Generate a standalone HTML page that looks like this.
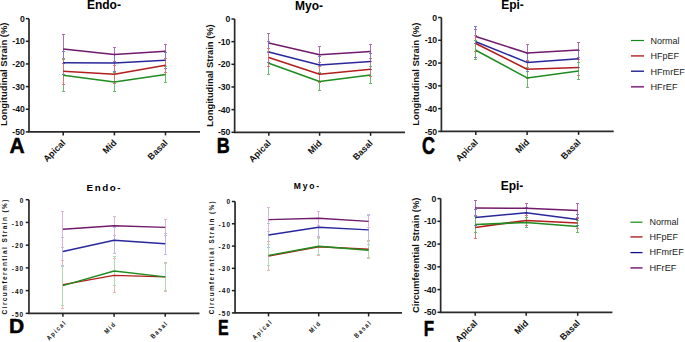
<!DOCTYPE html>
<html><head><meta charset="utf-8"><style>
html,body{margin:0;padding:0;background:#fff;}
body{width:685px;height:342px;overflow:hidden;}
svg{display:block;font-family:"Liberation Sans", sans-serif;}
</style></head><body>
<svg width="685" height="342" viewBox="0 0 685 342">
<rect width="685" height="342" fill="#fff"/>
<path d="M29.0 18.65V131.9H200.0" fill="none" stroke="#2a2a2a" stroke-width="1.7"/>
<path d="M25.8 18.65H29.0" stroke="#1e1e1e" stroke-width="1.5"/>
<text x="24.8" y="21.75" font-size="8.7" font-weight="bold" text-anchor="end" letter-spacing="0" fill="#111">0</text>
<path d="M25.8 41.3H29.0" stroke="#1e1e1e" stroke-width="1.5"/>
<text x="24.8" y="44.4" font-size="8.7" font-weight="bold" text-anchor="end" letter-spacing="0" fill="#111">-10</text>
<path d="M25.8 63.95H29.0" stroke="#1e1e1e" stroke-width="1.5"/>
<text x="24.8" y="67.05" font-size="8.7" font-weight="bold" text-anchor="end" letter-spacing="0" fill="#111">-20</text>
<path d="M25.8 86.6H29.0" stroke="#1e1e1e" stroke-width="1.5"/>
<text x="24.8" y="89.7" font-size="8.7" font-weight="bold" text-anchor="end" letter-spacing="0" fill="#111">-30</text>
<path d="M25.8 109.25H29.0" stroke="#1e1e1e" stroke-width="1.5"/>
<text x="24.8" y="112.35" font-size="8.7" font-weight="bold" text-anchor="end" letter-spacing="0" fill="#111">-40</text>
<path d="M25.8 131.9H29.0" stroke="#1e1e1e" stroke-width="1.5"/>
<text x="24.8" y="135.0" font-size="8.7" font-weight="bold" text-anchor="end" letter-spacing="0" fill="#111">-50</text>
<path d="M63.2 131.9v3.5" stroke="#1e1e1e" stroke-width="1.5"/>
<text transform="translate(66.0 143.4) rotate(-45)" font-size="9" font-weight="bold" text-anchor="end" letter-spacing="0" fill="#111">Apical</text>
<path d="M114.4 131.9v3.5" stroke="#1e1e1e" stroke-width="1.5"/>
<text transform="translate(117.2 143.4) rotate(-45)" font-size="9" font-weight="bold" text-anchor="end" letter-spacing="0" fill="#111">Mid</text>
<path d="M165.5 131.9v3.5" stroke="#1e1e1e" stroke-width="1.5"/>
<text transform="translate(168.3 143.4) rotate(-45)" font-size="9" font-weight="bold" text-anchor="end" letter-spacing="0" fill="#111">Basal</text>
<path d="M63.2 59.1V91.3" stroke="#6cb86c" stroke-width="1" fill="none" shape-rendering="crispEdges"/>
<path d="M114.4 72.7V91.3" stroke="#6cb86c" stroke-width="1" fill="none" shape-rendering="crispEdges"/>
<path d="M165.5 66.9V82.3" stroke="#6cb86c" stroke-width="1" fill="none" shape-rendering="crispEdges"/>
<path d="M63.2 34.7V63.1" stroke="#b070b0" stroke-width="1" fill="none" shape-rendering="crispEdges"/>
<path d="M114.4 47.5V61.5" stroke="#b070b0" stroke-width="1" fill="none" shape-rendering="crispEdges"/>
<path d="M165.5 44.4V58.0" stroke="#b070b0" stroke-width="1" fill="none" shape-rendering="crispEdges"/>
<path d="M63.2 51.3V74.3" stroke="#7a7ad0" stroke-width="1" fill="none" shape-rendering="crispEdges"/>
<path d="M114.4 54.5V71.5" stroke="#7a7ad0" stroke-width="1" fill="none" shape-rendering="crispEdges"/>
<path d="M165.5 52.2V68.4" stroke="#7a7ad0" stroke-width="1" fill="none" shape-rendering="crispEdges"/>
<path d="M63.2 58.0V84.6" stroke="#d67878" stroke-width="1" fill="none" shape-rendering="crispEdges"/>
<path d="M114.4 65.3V83.3" stroke="#d67878" stroke-width="1" fill="none" shape-rendering="crispEdges"/>
<path d="M165.5 58.0V72.6" stroke="#d67878" stroke-width="1" fill="none" shape-rendering="crispEdges"/>
<path d="M61.7 59.1h3M61.7 91.3h3" stroke="#6cb86c" stroke-width="1" fill="none" shape-rendering="crispEdges"/>
<path d="M112.9 72.7h3M112.9 91.3h3" stroke="#6cb86c" stroke-width="1" fill="none" shape-rendering="crispEdges"/>
<path d="M164.0 66.9h3M164.0 82.3h3" stroke="#6cb86c" stroke-width="1" fill="none" shape-rendering="crispEdges"/>
<path d="M61.7 34.7h3M61.7 63.1h3" stroke="#b070b0" stroke-width="1" fill="none" shape-rendering="crispEdges"/>
<path d="M112.9 47.5h3M112.9 61.5h3" stroke="#b070b0" stroke-width="1" fill="none" shape-rendering="crispEdges"/>
<path d="M164.0 44.4h3M164.0 58.0h3" stroke="#b070b0" stroke-width="1" fill="none" shape-rendering="crispEdges"/>
<path d="M61.7 51.3h3M61.7 74.3h3" stroke="#7a7ad0" stroke-width="1" fill="none" shape-rendering="crispEdges"/>
<path d="M112.9 54.5h3M112.9 71.5h3" stroke="#7a7ad0" stroke-width="1" fill="none" shape-rendering="crispEdges"/>
<path d="M164.0 52.2h3M164.0 68.4h3" stroke="#7a7ad0" stroke-width="1" fill="none" shape-rendering="crispEdges"/>
<path d="M61.7 58.0h3M61.7 84.6h3" stroke="#d67878" stroke-width="1" fill="none" shape-rendering="crispEdges"/>
<path d="M112.9 65.3h3M112.9 83.3h3" stroke="#d67878" stroke-width="1" fill="none" shape-rendering="crispEdges"/>
<path d="M164.0 58.0h3M164.0 72.6h3" stroke="#d67878" stroke-width="1" fill="none" shape-rendering="crispEdges"/>
<path d="M63.2 71.3 L114.4 74.3 L165.5 65.3" stroke="#b41e1e" stroke-width="1.55" fill="none" stroke-linejoin="round"/>
<path d="M63.2 75.2 L114.4 82.0 L165.5 74.6" stroke="#1e8c1e" stroke-width="1.55" fill="none" stroke-linejoin="round"/>
<path d="M63.2 62.8 L114.4 63.0 L165.5 60.3" stroke="#28289c" stroke-width="1.55" fill="none" stroke-linejoin="round"/>
<path d="M63.2 48.9 L114.4 54.5 L165.5 51.2" stroke="#701a6c" stroke-width="1.55" fill="none" stroke-linejoin="round"/>
<text x="103.9" y="9.2" font-size="12" font-weight="bold" text-anchor="middle" letter-spacing="0" fill="#000">Endo-</text>
<text transform="translate(6.9 74.25) rotate(-90)" font-size="9.9" font-weight="bold" text-anchor="middle" textLength="103.50" lengthAdjust="spacingAndGlyphs" fill="#111">Longitudinal Strain (%)</text>
<text transform="translate(9.54 153.27) scale(0.21 0.22)" font-size="100" font-weight="bold" fill="#000" stroke="#000" stroke-width="2.4" stroke-linejoin="round">A</text>
<path d="M234.65 19.0V132.3H405.0" fill="none" stroke="#2a2a2a" stroke-width="1.7"/>
<path d="M231.45 19.0H234.65" stroke="#1e1e1e" stroke-width="1.5"/>
<text x="230.45" y="22.1" font-size="8.7" font-weight="bold" text-anchor="end" letter-spacing="0" fill="#111">0</text>
<path d="M231.45 41.66H234.65" stroke="#1e1e1e" stroke-width="1.5"/>
<text x="230.45" y="44.76" font-size="8.7" font-weight="bold" text-anchor="end" letter-spacing="0" fill="#111">-10</text>
<path d="M231.45 64.32H234.65" stroke="#1e1e1e" stroke-width="1.5"/>
<text x="230.45" y="67.42" font-size="8.7" font-weight="bold" text-anchor="end" letter-spacing="0" fill="#111">-20</text>
<path d="M231.45 86.98H234.65" stroke="#1e1e1e" stroke-width="1.5"/>
<text x="230.45" y="90.08" font-size="8.7" font-weight="bold" text-anchor="end" letter-spacing="0" fill="#111">-30</text>
<path d="M231.45 109.64H234.65" stroke="#1e1e1e" stroke-width="1.5"/>
<text x="230.45" y="112.74" font-size="8.7" font-weight="bold" text-anchor="end" letter-spacing="0" fill="#111">-40</text>
<path d="M231.45 132.3H234.65" stroke="#1e1e1e" stroke-width="1.5"/>
<text x="230.45" y="135.4" font-size="8.7" font-weight="bold" text-anchor="end" letter-spacing="0" fill="#111">-50</text>
<path d="M268.8 132.3v3.5" stroke="#1e1e1e" stroke-width="1.5"/>
<text transform="translate(271.6 143.8) rotate(-45)" font-size="9" font-weight="bold" text-anchor="end" letter-spacing="0" fill="#111">Apical</text>
<path d="M319.6 132.3v3.5" stroke="#1e1e1e" stroke-width="1.5"/>
<text transform="translate(322.4 143.8) rotate(-45)" font-size="9" font-weight="bold" text-anchor="end" letter-spacing="0" fill="#111">Mid</text>
<path d="M370.6 132.3v3.5" stroke="#1e1e1e" stroke-width="1.5"/>
<text transform="translate(373.4 143.8) rotate(-45)" font-size="9" font-weight="bold" text-anchor="end" letter-spacing="0" fill="#111">Basal</text>
<path d="M268.8 51.6V74.8" stroke="#6cb86c" stroke-width="1" fill="none" shape-rendering="crispEdges"/>
<path d="M319.6 72.8V90.4" stroke="#6cb86c" stroke-width="1" fill="none" shape-rendering="crispEdges"/>
<path d="M370.6 66.9V83.3" stroke="#6cb86c" stroke-width="1" fill="none" shape-rendering="crispEdges"/>
<path d="M268.8 33.2V52.8" stroke="#b070b0" stroke-width="1" fill="none" shape-rendering="crispEdges"/>
<path d="M319.6 46.5V62.9" stroke="#b070b0" stroke-width="1" fill="none" shape-rendering="crispEdges"/>
<path d="M370.6 44.5V58.5" stroke="#b070b0" stroke-width="1" fill="none" shape-rendering="crispEdges"/>
<path d="M268.8 41.7V62.3" stroke="#7a7ad0" stroke-width="1" fill="none" shape-rendering="crispEdges"/>
<path d="M319.6 56.4V73.4" stroke="#7a7ad0" stroke-width="1" fill="none" shape-rendering="crispEdges"/>
<path d="M370.6 53.6V69.6" stroke="#7a7ad0" stroke-width="1" fill="none" shape-rendering="crispEdges"/>
<path d="M268.8 48.8V66.0" stroke="#d67878" stroke-width="1" fill="none" shape-rendering="crispEdges"/>
<path d="M319.6 66.2V82.2" stroke="#d67878" stroke-width="1" fill="none" shape-rendering="crispEdges"/>
<path d="M370.6 61.8V76.8" stroke="#d67878" stroke-width="1" fill="none" shape-rendering="crispEdges"/>
<path d="M267.3 51.6h3M267.3 74.8h3" stroke="#6cb86c" stroke-width="1" fill="none" shape-rendering="crispEdges"/>
<path d="M318.1 72.8h3M318.1 90.4h3" stroke="#6cb86c" stroke-width="1" fill="none" shape-rendering="crispEdges"/>
<path d="M369.1 66.9h3M369.1 83.3h3" stroke="#6cb86c" stroke-width="1" fill="none" shape-rendering="crispEdges"/>
<path d="M267.3 33.2h3M267.3 52.8h3" stroke="#b070b0" stroke-width="1" fill="none" shape-rendering="crispEdges"/>
<path d="M318.1 46.5h3M318.1 62.9h3" stroke="#b070b0" stroke-width="1" fill="none" shape-rendering="crispEdges"/>
<path d="M369.1 44.5h3M369.1 58.5h3" stroke="#b070b0" stroke-width="1" fill="none" shape-rendering="crispEdges"/>
<path d="M267.3 41.7h3M267.3 62.3h3" stroke="#7a7ad0" stroke-width="1" fill="none" shape-rendering="crispEdges"/>
<path d="M318.1 56.4h3M318.1 73.4h3" stroke="#7a7ad0" stroke-width="1" fill="none" shape-rendering="crispEdges"/>
<path d="M369.1 53.6h3M369.1 69.6h3" stroke="#7a7ad0" stroke-width="1" fill="none" shape-rendering="crispEdges"/>
<path d="M267.3 48.8h3M267.3 66.0h3" stroke="#d67878" stroke-width="1" fill="none" shape-rendering="crispEdges"/>
<path d="M318.1 66.2h3M318.1 82.2h3" stroke="#d67878" stroke-width="1" fill="none" shape-rendering="crispEdges"/>
<path d="M369.1 61.8h3M369.1 76.8h3" stroke="#d67878" stroke-width="1" fill="none" shape-rendering="crispEdges"/>
<path d="M268.8 57.4 L319.6 74.2 L370.6 69.3" stroke="#b41e1e" stroke-width="1.55" fill="none" stroke-linejoin="round"/>
<path d="M268.8 63.2 L319.6 81.6 L370.6 75.1" stroke="#1e8c1e" stroke-width="1.55" fill="none" stroke-linejoin="round"/>
<path d="M268.8 52.0 L319.6 64.9 L370.6 61.6" stroke="#28289c" stroke-width="1.55" fill="none" stroke-linejoin="round"/>
<path d="M268.8 43.0 L319.6 54.7 L370.6 51.5" stroke="#701a6c" stroke-width="1.55" fill="none" stroke-linejoin="round"/>
<text x="309.1" y="9.9" font-size="12" font-weight="bold" text-anchor="middle" letter-spacing="0" fill="#000">Myo-</text>
<text transform="translate(212.8 75.50) rotate(-90)" font-size="9.9" font-weight="bold" text-anchor="middle" textLength="102.40" lengthAdjust="spacingAndGlyphs" fill="#111">Longitudinal Strain (%)</text>
<text transform="translate(216.8 153.38) scale(0.18 0.22)" font-size="100" font-weight="bold" fill="#000" stroke="#000" stroke-width="2.4" stroke-linejoin="round">B</text>
<path d="M441.4 17.5V131.4H613.7" fill="none" stroke="#2a2a2a" stroke-width="1.7"/>
<path d="M438.2 17.5H441.4" stroke="#1e1e1e" stroke-width="1.5"/>
<text x="437.2" y="20.6" font-size="8.7" font-weight="bold" text-anchor="end" letter-spacing="0" fill="#111">0</text>
<path d="M438.2 40.28H441.4" stroke="#1e1e1e" stroke-width="1.5"/>
<text x="437.2" y="43.38" font-size="8.7" font-weight="bold" text-anchor="end" letter-spacing="0" fill="#111">-10</text>
<path d="M438.2 63.06H441.4" stroke="#1e1e1e" stroke-width="1.5"/>
<text x="437.2" y="66.16" font-size="8.7" font-weight="bold" text-anchor="end" letter-spacing="0" fill="#111">-20</text>
<path d="M438.2 85.84H441.4" stroke="#1e1e1e" stroke-width="1.5"/>
<text x="437.2" y="88.94" font-size="8.7" font-weight="bold" text-anchor="end" letter-spacing="0" fill="#111">-30</text>
<path d="M438.2 108.62H441.4" stroke="#1e1e1e" stroke-width="1.5"/>
<text x="437.2" y="111.72" font-size="8.7" font-weight="bold" text-anchor="end" letter-spacing="0" fill="#111">-40</text>
<path d="M438.2 131.4H441.4" stroke="#1e1e1e" stroke-width="1.5"/>
<text x="437.2" y="134.5" font-size="8.7" font-weight="bold" text-anchor="end" letter-spacing="0" fill="#111">-50</text>
<path d="M475.8 131.4v3.5" stroke="#1e1e1e" stroke-width="1.5"/>
<text transform="translate(478.6 142.9) rotate(-45)" font-size="9" font-weight="bold" text-anchor="end" letter-spacing="0" fill="#111">Apical</text>
<path d="M527.1 131.4v3.5" stroke="#1e1e1e" stroke-width="1.5"/>
<text transform="translate(529.9 142.9) rotate(-45)" font-size="9" font-weight="bold" text-anchor="end" letter-spacing="0" fill="#111">Mid</text>
<path d="M578.6 131.4v3.5" stroke="#1e1e1e" stroke-width="1.5"/>
<text transform="translate(581.4 142.9) rotate(-45)" font-size="9" font-weight="bold" text-anchor="end" letter-spacing="0" fill="#111">Basal</text>
<path d="M475.8 29.3V43.9" stroke="#b070b0" stroke-width="1" fill="none" shape-rendering="crispEdges"/>
<path d="M527.1 44.5V61.3" stroke="#b070b0" stroke-width="1" fill="none" shape-rendering="crispEdges"/>
<path d="M578.6 42.2V57.6" stroke="#b070b0" stroke-width="1" fill="none" shape-rendering="crispEdges"/>
<path d="M475.8 26.2V57.2" stroke="#7a7ad0" stroke-width="1" fill="none" shape-rendering="crispEdges"/>
<path d="M527.1 53.4V71.4" stroke="#7a7ad0" stroke-width="1" fill="none" shape-rendering="crispEdges"/>
<path d="M578.6 50.3V67.3" stroke="#7a7ad0" stroke-width="1" fill="none" shape-rendering="crispEdges"/>
<path d="M475.8 35.5V51.5" stroke="#d67878" stroke-width="1" fill="none" shape-rendering="crispEdges"/>
<path d="M527.1 60.3V78.3" stroke="#d67878" stroke-width="1" fill="none" shape-rendering="crispEdges"/>
<path d="M578.6 59.4V75.4" stroke="#d67878" stroke-width="1" fill="none" shape-rendering="crispEdges"/>
<path d="M475.8 40.9V59.5" stroke="#6cb86c" stroke-width="1" fill="none" shape-rendering="crispEdges"/>
<path d="M527.1 67.9V87.9" stroke="#6cb86c" stroke-width="1" fill="none" shape-rendering="crispEdges"/>
<path d="M578.6 62.7V79.1" stroke="#6cb86c" stroke-width="1" fill="none" shape-rendering="crispEdges"/>
<path d="M474.3 29.3h3M474.3 43.9h3" stroke="#b070b0" stroke-width="1" fill="none" shape-rendering="crispEdges"/>
<path d="M525.6 44.5h3M525.6 61.3h3" stroke="#b070b0" stroke-width="1" fill="none" shape-rendering="crispEdges"/>
<path d="M577.1 42.2h3M577.1 57.6h3" stroke="#b070b0" stroke-width="1" fill="none" shape-rendering="crispEdges"/>
<path d="M474.3 26.2h3M474.3 57.2h3" stroke="#7a7ad0" stroke-width="1" fill="none" shape-rendering="crispEdges"/>
<path d="M525.6 53.4h3M525.6 71.4h3" stroke="#7a7ad0" stroke-width="1" fill="none" shape-rendering="crispEdges"/>
<path d="M577.1 50.3h3M577.1 67.3h3" stroke="#7a7ad0" stroke-width="1" fill="none" shape-rendering="crispEdges"/>
<path d="M474.3 35.5h3M474.3 51.5h3" stroke="#d67878" stroke-width="1" fill="none" shape-rendering="crispEdges"/>
<path d="M525.6 60.3h3M525.6 78.3h3" stroke="#d67878" stroke-width="1" fill="none" shape-rendering="crispEdges"/>
<path d="M577.1 59.4h3M577.1 75.4h3" stroke="#d67878" stroke-width="1" fill="none" shape-rendering="crispEdges"/>
<path d="M474.3 40.9h3M474.3 59.5h3" stroke="#6cb86c" stroke-width="1" fill="none" shape-rendering="crispEdges"/>
<path d="M525.6 67.9h3M525.6 87.9h3" stroke="#6cb86c" stroke-width="1" fill="none" shape-rendering="crispEdges"/>
<path d="M577.1 62.7h3M577.1 79.1h3" stroke="#6cb86c" stroke-width="1" fill="none" shape-rendering="crispEdges"/>
<path d="M475.8 43.5 L527.1 69.3 L578.6 67.4" stroke="#b41e1e" stroke-width="1.55" fill="none" stroke-linejoin="round"/>
<path d="M475.8 50.2 L527.1 77.9 L578.6 70.9" stroke="#1e8c1e" stroke-width="1.55" fill="none" stroke-linejoin="round"/>
<path d="M475.8 41.7 L527.1 62.4 L578.6 58.8" stroke="#28289c" stroke-width="1.55" fill="none" stroke-linejoin="round"/>
<path d="M475.8 36.6 L527.1 52.9 L578.6 49.9" stroke="#701a6c" stroke-width="1.55" fill="none" stroke-linejoin="round"/>
<text x="512.5" y="9.1" font-size="12" font-weight="bold" text-anchor="middle" letter-spacing="0" fill="#000">Epi-</text>
<text transform="translate(419.0 74.20) rotate(-90)" font-size="9.9" font-weight="bold" text-anchor="middle" textLength="103.20" lengthAdjust="spacingAndGlyphs" fill="#111">Longitudinal Strain (%)</text>
<text transform="translate(422.01 153.83) scale(0.18 0.23)" font-size="100" font-weight="bold" fill="#000" stroke="#000" stroke-width="2.4" stroke-linejoin="round">C</text>
<path d="M28.95 199.7V313.35H199.5" fill="none" stroke="#2a2a2a" stroke-width="1.7"/>
<path d="M25.75 199.7H28.95" stroke="#1e1e1e" stroke-width="1.5"/>
<text x="24.35" y="202.9" font-size="6.5" font-weight="bold" text-anchor="end" letter-spacing="1.1" fill="#111">0</text>
<path d="M25.75 222.43H28.95" stroke="#1e1e1e" stroke-width="1.5"/>
<text x="24.35" y="225.63" font-size="6.5" font-weight="bold" text-anchor="end" letter-spacing="1.1" fill="#111">-10</text>
<path d="M25.75 245.16H28.95" stroke="#1e1e1e" stroke-width="1.5"/>
<text x="24.35" y="248.36" font-size="6.5" font-weight="bold" text-anchor="end" letter-spacing="1.1" fill="#111">-20</text>
<path d="M25.75 267.89H28.95" stroke="#1e1e1e" stroke-width="1.5"/>
<text x="24.35" y="271.09" font-size="6.5" font-weight="bold" text-anchor="end" letter-spacing="1.1" fill="#111">-30</text>
<path d="M25.75 290.62H28.95" stroke="#1e1e1e" stroke-width="1.5"/>
<text x="24.35" y="293.82" font-size="6.5" font-weight="bold" text-anchor="end" letter-spacing="1.1" fill="#111">-40</text>
<path d="M25.75 313.35H28.95" stroke="#1e1e1e" stroke-width="1.5"/>
<text x="24.35" y="316.55" font-size="6.5" font-weight="bold" text-anchor="end" letter-spacing="1.1" fill="#111">-50</text>
<path d="M62.9 313.35v3.5" stroke="#1e1e1e" stroke-width="1.5"/>
<text transform="translate(67.11 322.84) rotate(-45) scale(0.82 1)" font-size="6.8" font-weight="bold" text-anchor="end" letter-spacing="1.75" fill="#111">Apical</text>
<path d="M114.1 313.35v3.5" stroke="#1e1e1e" stroke-width="1.5"/>
<text transform="translate(116.75 324.4) rotate(-45) scale(0.82 1)" font-size="6.8" font-weight="bold" text-anchor="end" letter-spacing="1.75" fill="#111">Mid</text>
<path d="M165.2 313.35v3.5" stroke="#1e1e1e" stroke-width="1.5"/>
<text transform="translate(168.7 323.55) rotate(-45) scale(0.82 1)" font-size="6.8" font-weight="bold" text-anchor="end" letter-spacing="1.75" fill="#111">Basal</text>
<path d="M62.9 237.5V265.5" stroke="#bcbcea" stroke-width="1" fill="none" shape-rendering="crispEdges"/>
<path d="M114.1 227.2V253.2" stroke="#bcbcea" stroke-width="1" fill="none" shape-rendering="crispEdges"/>
<path d="M165.2 233.1V254.3" stroke="#bcbcea" stroke-width="1" fill="none" shape-rendering="crispEdges"/>
<path d="M62.9 211.0V247.4" stroke="#dcb4dc" stroke-width="1" fill="none" shape-rendering="crispEdges"/>
<path d="M114.1 216.4V235.0" stroke="#dcb4dc" stroke-width="1" fill="none" shape-rendering="crispEdges"/>
<path d="M165.2 219.2V235.6" stroke="#dcb4dc" stroke-width="1" fill="none" shape-rendering="crispEdges"/>
<path d="M62.9 260.8V308.4" stroke="#eab4b4" stroke-width="1" fill="none" shape-rendering="crispEdges"/>
<path d="M114.1 258.8V292.0" stroke="#eab4b4" stroke-width="1" fill="none" shape-rendering="crispEdges"/>
<path d="M165.2 262.5V291.3" stroke="#eab4b4" stroke-width="1" fill="none" shape-rendering="crispEdges"/>
<path d="M62.9 266.4V305.0" stroke="#b4dab4" stroke-width="1" fill="none" shape-rendering="crispEdges"/>
<path d="M114.1 256.7V285.3" stroke="#b4dab4" stroke-width="1" fill="none" shape-rendering="crispEdges"/>
<path d="M165.2 263.5V290.3" stroke="#b4dab4" stroke-width="1" fill="none" shape-rendering="crispEdges"/>
<path d="M61.4 237.5h3M61.4 265.5h3" stroke="#bcbcea" stroke-width="1" fill="none" shape-rendering="crispEdges"/>
<path d="M112.6 227.2h3M112.6 253.2h3" stroke="#bcbcea" stroke-width="1" fill="none" shape-rendering="crispEdges"/>
<path d="M163.7 233.1h3M163.7 254.3h3" stroke="#bcbcea" stroke-width="1" fill="none" shape-rendering="crispEdges"/>
<path d="M61.4 211.0h3M61.4 247.4h3" stroke="#dcb4dc" stroke-width="1" fill="none" shape-rendering="crispEdges"/>
<path d="M112.6 216.4h3M112.6 235.0h3" stroke="#dcb4dc" stroke-width="1" fill="none" shape-rendering="crispEdges"/>
<path d="M163.7 219.2h3M163.7 235.6h3" stroke="#dcb4dc" stroke-width="1" fill="none" shape-rendering="crispEdges"/>
<path d="M61.4 260.8h3M61.4 308.4h3" stroke="#eab4b4" stroke-width="1" fill="none" shape-rendering="crispEdges"/>
<path d="M112.6 258.8h3M112.6 292.0h3" stroke="#eab4b4" stroke-width="1" fill="none" shape-rendering="crispEdges"/>
<path d="M163.7 262.5h3M163.7 291.3h3" stroke="#eab4b4" stroke-width="1" fill="none" shape-rendering="crispEdges"/>
<path d="M61.4 266.4h3M61.4 305.0h3" stroke="#b4dab4" stroke-width="1" fill="none" shape-rendering="crispEdges"/>
<path d="M112.6 256.7h3M112.6 285.3h3" stroke="#b4dab4" stroke-width="1" fill="none" shape-rendering="crispEdges"/>
<path d="M163.7 263.5h3M163.7 290.3h3" stroke="#b4dab4" stroke-width="1" fill="none" shape-rendering="crispEdges"/>
<path d="M62.9 284.6 L114.1 275.4 L165.2 276.9" stroke="#b41e1e" stroke-width="1.4" fill="none" stroke-linejoin="round"/>
<path d="M62.9 285.7 L114.1 271.0 L165.2 276.9" stroke="#1e8c1e" stroke-width="1.4" fill="none" stroke-linejoin="round"/>
<path d="M62.9 251.5 L114.1 240.2 L165.2 243.7" stroke="#28289c" stroke-width="1.4" fill="none" stroke-linejoin="round"/>
<path d="M62.9 229.2 L114.1 225.7 L165.2 227.4" stroke="#701a6c" stroke-width="1.4" fill="none" stroke-linejoin="round"/>
<text x="104.3" y="190.8" font-size="9.8" font-weight="bold" text-anchor="middle" letter-spacing="1.55" fill="#000">Endo-</text>
<text transform="translate(7.1 257.00) rotate(-90)" font-size="6.5" font-weight="bold" text-anchor="middle" textLength="114.80" lengthAdjust="spacing" fill="#111">Circumferential Strain (%)</text>
<text transform="translate(9.03 333.49) scale(0.21 0.21)" font-size="100" font-weight="bold" fill="#000" stroke="#000" stroke-width="2.4" stroke-linejoin="round">D</text>
<path d="M235.05 201.5V312.9H402.0" fill="none" stroke="#2a2a2a" stroke-width="1.7"/>
<path d="M231.85 201.5H235.05" stroke="#1e1e1e" stroke-width="1.5"/>
<text x="231.15" y="204.25" font-size="6.5" font-weight="bold" text-anchor="end" letter-spacing="1.1" fill="#111">0</text>
<path d="M231.85 223.78H235.05" stroke="#1e1e1e" stroke-width="1.5"/>
<text x="231.15" y="226.53" font-size="6.5" font-weight="bold" text-anchor="end" letter-spacing="1.1" fill="#111">-10</text>
<path d="M231.85 246.06H235.05" stroke="#1e1e1e" stroke-width="1.5"/>
<text x="231.15" y="248.81" font-size="6.5" font-weight="bold" text-anchor="end" letter-spacing="1.1" fill="#111">-20</text>
<path d="M231.85 268.34H235.05" stroke="#1e1e1e" stroke-width="1.5"/>
<text x="231.15" y="271.09" font-size="6.5" font-weight="bold" text-anchor="end" letter-spacing="1.1" fill="#111">-30</text>
<path d="M231.85 290.62H235.05" stroke="#1e1e1e" stroke-width="1.5"/>
<text x="231.15" y="293.37" font-size="6.5" font-weight="bold" text-anchor="end" letter-spacing="1.1" fill="#111">-40</text>
<path d="M231.85 312.9H235.05" stroke="#1e1e1e" stroke-width="1.5"/>
<text x="231.15" y="315.65" font-size="6.5" font-weight="bold" text-anchor="end" letter-spacing="1.1" fill="#111">-50</text>
<path d="M268.5 312.9v3.5" stroke="#1e1e1e" stroke-width="1.5"/>
<text transform="translate(272.99 322.11) rotate(-45) scale(0.82 1)" font-size="6.8" font-weight="bold" text-anchor="end" letter-spacing="1.75" fill="#111">Apical</text>
<path d="M318.7 312.9v3.5" stroke="#1e1e1e" stroke-width="1.5"/>
<text transform="translate(321.63 323.67) rotate(-45) scale(0.82 1)" font-size="6.8" font-weight="bold" text-anchor="end" letter-spacing="1.75" fill="#111">Mid</text>
<path d="M368.6 312.9v3.5" stroke="#1e1e1e" stroke-width="1.5"/>
<text transform="translate(372.38 322.82) rotate(-45) scale(0.82 1)" font-size="6.8" font-weight="bold" text-anchor="end" letter-spacing="1.75" fill="#111">Basal</text>
<path d="M268.5 223.0V247.0" stroke="#bcbcea" stroke-width="1" fill="none" shape-rendering="crispEdges"/>
<path d="M318.7 218.3V236.3" stroke="#bcbcea" stroke-width="1" fill="none" shape-rendering="crispEdges"/>
<path d="M368.6 215.8V244.0" stroke="#bcbcea" stroke-width="1" fill="none" shape-rendering="crispEdges"/>
<path d="M268.5 207.9V231.3" stroke="#dcb4dc" stroke-width="1" fill="none" shape-rendering="crispEdges"/>
<path d="M318.7 211.4V225.0" stroke="#dcb4dc" stroke-width="1" fill="none" shape-rendering="crispEdges"/>
<path d="M368.6 214.9V227.9" stroke="#dcb4dc" stroke-width="1" fill="none" shape-rendering="crispEdges"/>
<path d="M268.5 241.6V270.6" stroke="#eab4b4" stroke-width="1" fill="none" shape-rendering="crispEdges"/>
<path d="M318.7 237.8V255.6" stroke="#eab4b4" stroke-width="1" fill="none" shape-rendering="crispEdges"/>
<path d="M368.6 240.8V257.8" stroke="#eab4b4" stroke-width="1" fill="none" shape-rendering="crispEdges"/>
<path d="M268.5 244.9V265.9" stroke="#b4dab4" stroke-width="1" fill="none" shape-rendering="crispEdges"/>
<path d="M318.7 238.2V254.2" stroke="#b4dab4" stroke-width="1" fill="none" shape-rendering="crispEdges"/>
<path d="M368.6 241.5V258.9" stroke="#b4dab4" stroke-width="1" fill="none" shape-rendering="crispEdges"/>
<path d="M267.0 223.0h3M267.0 247.0h3" stroke="#bcbcea" stroke-width="1" fill="none" shape-rendering="crispEdges"/>
<path d="M317.2 218.3h3M317.2 236.3h3" stroke="#bcbcea" stroke-width="1" fill="none" shape-rendering="crispEdges"/>
<path d="M367.1 215.8h3M367.1 244.0h3" stroke="#bcbcea" stroke-width="1" fill="none" shape-rendering="crispEdges"/>
<path d="M267.0 207.9h3M267.0 231.3h3" stroke="#dcb4dc" stroke-width="1" fill="none" shape-rendering="crispEdges"/>
<path d="M317.2 211.4h3M317.2 225.0h3" stroke="#dcb4dc" stroke-width="1" fill="none" shape-rendering="crispEdges"/>
<path d="M367.1 214.9h3M367.1 227.9h3" stroke="#dcb4dc" stroke-width="1" fill="none" shape-rendering="crispEdges"/>
<path d="M267.0 241.6h3M267.0 270.6h3" stroke="#eab4b4" stroke-width="1" fill="none" shape-rendering="crispEdges"/>
<path d="M317.2 237.8h3M317.2 255.6h3" stroke="#eab4b4" stroke-width="1" fill="none" shape-rendering="crispEdges"/>
<path d="M367.1 240.8h3M367.1 257.8h3" stroke="#eab4b4" stroke-width="1" fill="none" shape-rendering="crispEdges"/>
<path d="M267.0 244.9h3M267.0 265.9h3" stroke="#b4dab4" stroke-width="1" fill="none" shape-rendering="crispEdges"/>
<path d="M317.2 238.2h3M317.2 254.2h3" stroke="#b4dab4" stroke-width="1" fill="none" shape-rendering="crispEdges"/>
<path d="M367.1 241.5h3M367.1 258.9h3" stroke="#b4dab4" stroke-width="1" fill="none" shape-rendering="crispEdges"/>
<path d="M268.5 256.1 L318.7 246.7 L368.6 249.3" stroke="#b41e1e" stroke-width="1.4" fill="none" stroke-linejoin="round"/>
<path d="M268.5 255.4 L318.7 246.2 L368.6 250.2" stroke="#1e8c1e" stroke-width="1.4" fill="none" stroke-linejoin="round"/>
<path d="M268.5 235.0 L318.7 227.3 L368.6 229.9" stroke="#28289c" stroke-width="1.4" fill="none" stroke-linejoin="round"/>
<path d="M268.5 219.6 L318.7 218.2 L368.6 221.4" stroke="#701a6c" stroke-width="1.4" fill="none" stroke-linejoin="round"/>
<text x="307.3" y="188.7" font-size="8.5" font-weight="bold" text-anchor="middle" letter-spacing="1.8" fill="#000">Myo-</text>
<text transform="translate(214.3 257.75) rotate(-90)" font-size="6.3" font-weight="bold" text-anchor="middle" textLength="112.90" lengthAdjust="spacing" fill="#111">Circumferential Strain (%)</text>
<text transform="translate(218.11 334.78) scale(0.16 0.22)" font-size="100" font-weight="bold" fill="#000" stroke="#000" stroke-width="2.4" stroke-linejoin="round">E</text>
<path d="M440.65 198.6V312.3H612.4" fill="none" stroke="#2a2a2a" stroke-width="1.7"/>
<path d="M437.45 198.6H440.65" stroke="#1e1e1e" stroke-width="1.5"/>
<text x="436.45" y="201.7" font-size="8.7" font-weight="bold" text-anchor="end" letter-spacing="0" fill="#111">0</text>
<path d="M437.45 221.34H440.65" stroke="#1e1e1e" stroke-width="1.5"/>
<text x="436.45" y="224.44" font-size="8.7" font-weight="bold" text-anchor="end" letter-spacing="0" fill="#111">-10</text>
<path d="M437.45 244.08H440.65" stroke="#1e1e1e" stroke-width="1.5"/>
<text x="436.45" y="247.18" font-size="8.7" font-weight="bold" text-anchor="end" letter-spacing="0" fill="#111">-20</text>
<path d="M437.45 266.82H440.65" stroke="#1e1e1e" stroke-width="1.5"/>
<text x="436.45" y="269.92" font-size="8.7" font-weight="bold" text-anchor="end" letter-spacing="0" fill="#111">-30</text>
<path d="M437.45 289.56H440.65" stroke="#1e1e1e" stroke-width="1.5"/>
<text x="436.45" y="292.66" font-size="8.7" font-weight="bold" text-anchor="end" letter-spacing="0" fill="#111">-40</text>
<path d="M437.45 312.3H440.65" stroke="#1e1e1e" stroke-width="1.5"/>
<text x="436.45" y="315.4" font-size="8.7" font-weight="bold" text-anchor="end" letter-spacing="0" fill="#111">-50</text>
<path d="M475.2 312.3v3.5" stroke="#1e1e1e" stroke-width="1.5"/>
<text transform="translate(478.0 323.8) rotate(-45)" font-size="9" font-weight="bold" text-anchor="end" letter-spacing="0" fill="#111">Apical</text>
<path d="M526.2 312.3v3.5" stroke="#1e1e1e" stroke-width="1.5"/>
<text transform="translate(529.0 323.8) rotate(-45)" font-size="9" font-weight="bold" text-anchor="end" letter-spacing="0" fill="#111">Mid</text>
<path d="M577.7 312.3v3.5" stroke="#1e1e1e" stroke-width="1.5"/>
<text transform="translate(580.5 323.8) rotate(-45)" font-size="9" font-weight="bold" text-anchor="end" letter-spacing="0" fill="#111">Basal</text>
<path d="M475.2 200.5V215.5" stroke="#b070b0" stroke-width="1" fill="none" shape-rendering="crispEdges"/>
<path d="M526.2 203.5V213.1" stroke="#b070b0" stroke-width="1" fill="none" shape-rendering="crispEdges"/>
<path d="M577.7 203.5V217.5" stroke="#b070b0" stroke-width="1" fill="none" shape-rendering="crispEdges"/>
<path d="M475.2 209.5V225.5" stroke="#7a7ad0" stroke-width="1" fill="none" shape-rendering="crispEdges"/>
<path d="M526.2 207.8V217.8" stroke="#7a7ad0" stroke-width="1" fill="none" shape-rendering="crispEdges"/>
<path d="M577.7 214.0V225.0" stroke="#7a7ad0" stroke-width="1" fill="none" shape-rendering="crispEdges"/>
<path d="M475.2 216.8V238.0" stroke="#d67878" stroke-width="1" fill="none" shape-rendering="crispEdges"/>
<path d="M526.2 215.4V225.4" stroke="#d67878" stroke-width="1" fill="none" shape-rendering="crispEdges"/>
<path d="M577.7 218.0V228.0" stroke="#d67878" stroke-width="1" fill="none" shape-rendering="crispEdges"/>
<path d="M475.2 216.6V232.4" stroke="#6cb86c" stroke-width="1" fill="none" shape-rendering="crispEdges"/>
<path d="M526.2 217.7V227.3" stroke="#6cb86c" stroke-width="1" fill="none" shape-rendering="crispEdges"/>
<path d="M577.7 220.6V232.4" stroke="#6cb86c" stroke-width="1" fill="none" shape-rendering="crispEdges"/>
<path d="M473.7 200.5h3M473.7 215.5h3" stroke="#b070b0" stroke-width="1" fill="none" shape-rendering="crispEdges"/>
<path d="M524.7 203.5h3M524.7 213.1h3" stroke="#b070b0" stroke-width="1" fill="none" shape-rendering="crispEdges"/>
<path d="M576.2 203.5h3M576.2 217.5h3" stroke="#b070b0" stroke-width="1" fill="none" shape-rendering="crispEdges"/>
<path d="M473.7 209.5h3M473.7 225.5h3" stroke="#7a7ad0" stroke-width="1" fill="none" shape-rendering="crispEdges"/>
<path d="M524.7 207.8h3M524.7 217.8h3" stroke="#7a7ad0" stroke-width="1" fill="none" shape-rendering="crispEdges"/>
<path d="M576.2 214.0h3M576.2 225.0h3" stroke="#7a7ad0" stroke-width="1" fill="none" shape-rendering="crispEdges"/>
<path d="M473.7 216.8h3M473.7 238.0h3" stroke="#d67878" stroke-width="1" fill="none" shape-rendering="crispEdges"/>
<path d="M524.7 215.4h3M524.7 225.4h3" stroke="#d67878" stroke-width="1" fill="none" shape-rendering="crispEdges"/>
<path d="M576.2 218.0h3M576.2 228.0h3" stroke="#d67878" stroke-width="1" fill="none" shape-rendering="crispEdges"/>
<path d="M473.7 216.6h3M473.7 232.4h3" stroke="#6cb86c" stroke-width="1" fill="none" shape-rendering="crispEdges"/>
<path d="M524.7 217.7h3M524.7 227.3h3" stroke="#6cb86c" stroke-width="1" fill="none" shape-rendering="crispEdges"/>
<path d="M576.2 220.6h3M576.2 232.4h3" stroke="#6cb86c" stroke-width="1" fill="none" shape-rendering="crispEdges"/>
<path d="M475.2 227.4 L526.2 220.4 L577.7 223.0" stroke="#b41e1e" stroke-width="1.55" fill="none" stroke-linejoin="round"/>
<path d="M475.2 224.5 L526.2 222.5 L577.7 226.5" stroke="#1e8c1e" stroke-width="1.55" fill="none" stroke-linejoin="round"/>
<path d="M475.2 217.5 L526.2 212.8 L577.7 219.5" stroke="#28289c" stroke-width="1.55" fill="none" stroke-linejoin="round"/>
<path d="M475.2 208.0 L526.2 208.3 L577.7 210.5" stroke="#701a6c" stroke-width="1.55" fill="none" stroke-linejoin="round"/>
<text x="512.0" y="189.8" font-size="12" font-weight="bold" text-anchor="middle" letter-spacing="0" fill="#000">Epi-</text>
<text transform="translate(418.5 255.35) rotate(-90)" font-size="9.9" font-weight="bold" text-anchor="middle" textLength="115.50" lengthAdjust="spacingAndGlyphs" fill="#111">Circumferential Strain (%)</text>
<text transform="translate(423.87 335.68) scale(0.17 0.22)" font-size="100" font-weight="bold" fill="#000" stroke="#000" stroke-width="2.4" stroke-linejoin="round">F</text>
<path d="M631.0 40.5H644.0" stroke="#168a16" stroke-width="1.2"/>
<text x="650.5" y="43.80" font-size="9.5" textLength="29.0" lengthAdjust="spacingAndGlyphs" fill="#222">Normal</text>
<path d="M631.0 55.9H644.0" stroke="#c04848" stroke-width="1.7"/>
<text x="650.5" y="59.20" font-size="9.5" textLength="28.5" lengthAdjust="spacingAndGlyphs" fill="#222">HFpEF</text>
<path d="M631.0 71.2H644.0" stroke="#10108e" stroke-width="1.3"/>
<text x="650.5" y="74.50" font-size="9.5" textLength="34.3" lengthAdjust="spacingAndGlyphs" fill="#222">HFmrEF</text>
<path d="M631.0 86.8H644.0" stroke="#8a3a88" stroke-width="1.7"/>
<text x="650.5" y="90.10" font-size="9.5" textLength="27.0" lengthAdjust="spacingAndGlyphs" fill="#222">HFrEF</text>
<path d="M630.4 222.2H642.5" stroke="#168a16" stroke-width="1.2"/>
<text x="649.4" y="225.00" font-size="9.5" textLength="29.0" lengthAdjust="spacingAndGlyphs" fill="#222">Normal</text>
<path d="M630.4 236.9H642.5" stroke="#c04848" stroke-width="1.7"/>
<text x="649.4" y="239.70" font-size="9.5" textLength="28.5" lengthAdjust="spacingAndGlyphs" fill="#222">HFpEF</text>
<path d="M630.4 252.6H642.5" stroke="#10108e" stroke-width="1.3"/>
<text x="649.4" y="255.40" font-size="9.5" textLength="34.3" lengthAdjust="spacingAndGlyphs" fill="#222">HFmrEF</text>
<path d="M630.4 267.9H642.5" stroke="#8a3a88" stroke-width="1.7"/>
<text x="649.4" y="270.70" font-size="9.5" textLength="27.0" lengthAdjust="spacingAndGlyphs" fill="#222">HFrEF</text>
</svg>
</body></html>
